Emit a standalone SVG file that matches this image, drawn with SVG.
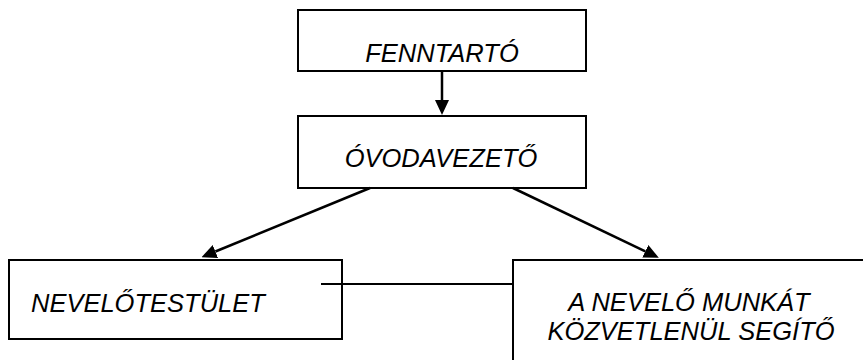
<svg xmlns="http://www.w3.org/2000/svg" width="863" height="360" viewBox="0 0 863 360">
<style>
.box{fill:#fff;stroke:#000;stroke-width:2}
.lbl{font-family:"Liberation Sans",Arial,sans-serif;font-style:italic;font-size:25.5px;fill:#000}
.conn{stroke:#000;stroke-width:2;fill:none}
.arr{stroke-width:2.5}
</style>
<defs>
<marker id="ah" markerUnits="userSpaceOnUse" markerWidth="15" markerHeight="14" viewBox="0 0 15 14" refX="0" refY="7" orient="auto">
<path d="M0,0 L15,7 L0,14 Z" fill="#000"/>
</marker>
</defs>
<rect width="863" height="360" fill="#fff"/>
<g id="node-fenntarto">
<rect class="box" x="298" y="10" width="288" height="61"/>
<text class="lbl" x="442" y="62" text-anchor="middle">FENNTARTÓ</text>
</g>
<g id="node-ovodavezeto">
<rect class="box" x="298" y="116" width="288" height="72"/>
<text class="lbl" x="441" y="167" text-anchor="middle">ÓVODAVEZETŐ</text>
</g>
<g id="node-nevelotestulet">
<rect class="box" x="9" y="260" width="333" height="79"/>
<text class="lbl" x="31" y="312">NEVELŐTESTÜLET</text>
</g>
<g id="node-segito">
<rect class="box" x="513" y="260" width="360" height="120"/>
<text class="lbl" text-anchor="middle"><tspan x="689" y="311">A NEVELŐ MUNKÁT</tspan><tspan x="691" y="339.5">KÖZVETLENÜL SEGÍTŐ</tspan></text>
</g>
<g id="connectors">
<line class="conn arr" x1="442" y1="71" x2="442" y2="100" marker-end="url(#ah)"/>
<line class="conn arr" x1="370" y1="188" x2="215.4" y2="251.5" marker-end="url(#ah)"/>
<line class="conn arr" x1="513" y1="188" x2="645.3" y2="251.3" marker-end="url(#ah)"/>
<line class="conn" x1="321" y1="284" x2="513" y2="284"/>
</g>
</svg>
